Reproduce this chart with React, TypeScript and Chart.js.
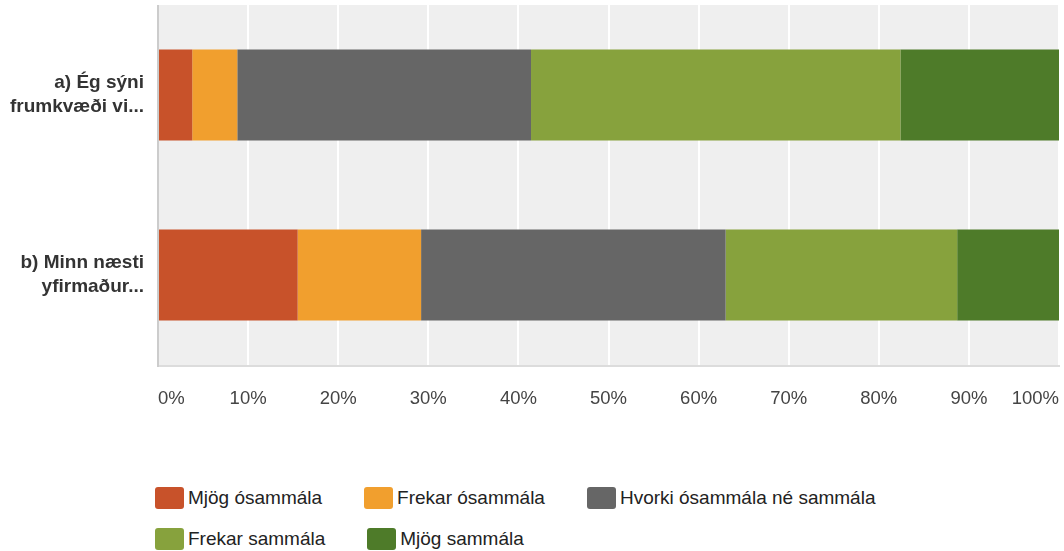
import React, { useEffect, useRef } from "react";
import { Chart, registerables } from "chart.js";

Chart.register(...registerables);

const categories: string[][] = [
  ["a) Ég sýni", "frumkvæði vi..."],
  ["b) Minn næsti", "yfirmaður..."],
];
const seriesNames = [
  "Mjög ósammála",
  "Frekar ósammála",
  "Hvorki ósammála né sammála",
  "Frekar sammála",
  "Mjög sammála",
];
const seriesColors = ["#c8522a", "#f19f2e", "#666666", "#87a23d", "#4e7b29"];
const mjogOsammala = [3.8, 15.5];
const frekarOsammala = [5.0, 13.7];
const hvorki = [32.6, 33.8];
const frekarSammala = [41.0, 25.7];
const mjogSammala = [17.6, 11.3];
const seriesValues = [mjogOsammala, frekarOsammala, hvorki, frekarSammala, mjogSammala];
const xTicks = [0, 10, 20, 30, 40, 50, 60, 70, 80, 90, 100];

const FONT = "'Liberation Sans', Arial, Helvetica, sans-serif";

const bgPlugin = {
  id: "plotBg",
  beforeDraw(chart: any) {
    const { ctx, chartArea } = chart;
    ctx.save();
    ctx.fillStyle = "#efefef";
    ctx.fillRect(chartArea.left, chartArea.top, chartArea.right - chartArea.left + 1, chartArea.bottom - chartArea.top);
    ctx.restore();
  },
  afterDraw(chart: any) {
    const { ctx, chartArea } = chart;
    ctx.save();
    ctx.fillStyle = "#dcdcdc";
    ctx.fillRect(chartArea.left, chartArea.bottom, chartArea.right - chartArea.left + 1, 2);
    ctx.fillStyle = "#cccccc";
    ctx.fillRect(chartArea.left - 1, chartArea.top, 2, chartArea.bottom - chartArea.top + 2);
    ctx.restore();
  },
};

export default function App() {
  const canvasRef = useRef<HTMLCanvasElement | null>(null);

  useEffect(() => {
    if (!canvasRef.current) return;
    const chart = new Chart(canvasRef.current, {
      type: "bar",
      data: {
        labels: categories,
        datasets: seriesNames.map((name, i) => ({
          label: name,
          data: seriesValues[i],
          backgroundColor: seriesColors[i],
          borderWidth: 0,
          categoryPercentage: 1,
          barPercentage: 0.505,
        })),
      },
      options: {
        indexAxis: "y",
        animation: false,
        responsive: false,
        maintainAspectRatio: false,
        layout: { padding: { top: 5, right: 5, left: 0, bottom: 0 } },
        plugins: {
          legend: { display: false },
          tooltip: { enabled: false },
        },
        scales: {
          x: {
            stacked: true,
            min: 0,
            max: 100,
            afterBuildTicks(scale: any) {
              scale.ticks = xTicks.map((v) => ({ value: v }));
            },
            afterFit(scale: any) {
              scale.height = 55;
              scale.paddingLeft = 0;
              scale.paddingRight = 0;
            },
            grid: {
              color: "#ffffff",
              lineWidth: 2,
              drawTicks: false,
            },
            border: { display: false },
            ticks: {
              align: "inner",
              padding: 23,
              color: "#444444",
              font: { family: FONT, size: 18.5 },
              callback: (v: any) => v + "%",
              maxRotation: 0,
              autoSkip: false,
            },
          },
          y: {
            stacked: true,
            afterFit(scale: any) {
              scale.width = 158;
              scale.paddingTop = 0;
              scale.paddingBottom = 0;
            },
            grid: { display: false, drawTicks: false },
            border: { display: false },
            ticks: {
              padding: 14,
              color: "#333333",
              font: { family: FONT, size: 19, weight: "bold", lineHeight: 1.25 },
            },
          },
        },
      },
      plugins: [bgPlugin],
    } as any);
    return () => chart.destroy();
  }, []);

  const rows = [
    [0, 1, 2],
    [3, 4],
  ];

  return (
    <div style={{ position: "absolute", left: 0, top: 0, width: 1064, height: 551, background: "#fff" }}>
      <canvas ref={canvasRef} width={1064} height={420} style={{ display: "block", width: 1064, height: 420 }} />
      {rows.map((row, ri) => (
        <div
          key={ri}
          style={{
            position: "absolute",
            left: 155,
            top: ri === 0 ? 487 : 528,
            height: 22,
            display: "flex",
            alignItems: "center",
            whiteSpace: "nowrap",
          }}
        >
          {row.map((si) => (
            <div key={si} style={{ display: "flex", alignItems: "center", marginRight: 42 }}>
              <span
                style={{
                  display: "inline-block",
                  width: 29,
                  height: 22,
                  borderRadius: 3,
                  background: seriesColors[si],
                  marginRight: 4,
                }}
              />
              <span style={{ fontFamily: FONT, fontSize: 19, color: "#222222", lineHeight: "22px" }}>
                {seriesNames[si]}
              </span>
            </div>
          ))}
        </div>
      ))}
    </div>
  );
}
